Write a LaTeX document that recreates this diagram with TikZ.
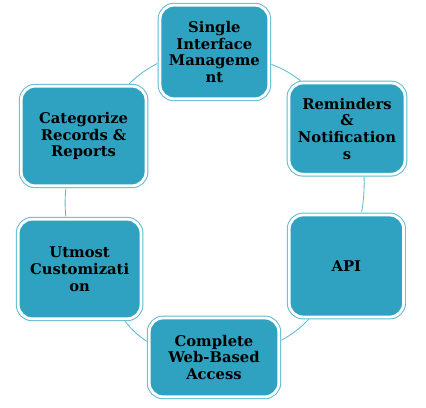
\documentclass[tikz,border=0pt]{standalone}
\usepackage{fontspec}
\setmainfont{DejaVu Serif}

\definecolor{boxfill}{RGB}{46,162,192}
\definecolor{linkc}{RGB}{92,186,210}

\tikzset{
  box/.style={rectangle, rounded corners=0.35cm, fill=boxfill, draw=white, line width=2pt,
    preaction={draw=linkc, line width=3.4pt},
    align=center, text=black, inner sep=2pt,
    font=\bfseries\fontsize{10.5}{11.9}\selectfont},
  link/.style={draw=linkc, line width=0.6pt, shorten >=1pt, shorten <=1pt}
}

\begin{document}
\begin{tikzpicture}
\useasboundingbox (0,0) rectangle (10.65,10.175);

\node[box, minimum width=2.72cm, minimum height=2.34cm] (single)  at (5.36,8.875) {Single\\Interface\\Manageme\\nt};
\node[box, minimum width=2.9cm, minimum height=2.28cm]  (remind)  at (8.675,6.96) {Reminders\\\&\\Notification\\s};
\node[box, minimum width=2.86cm, minimum height=2.55cm] (api)     at (8.66,3.525) {API};
\node[box, minimum width=3.24cm, minimum height=1.97cm] (webacc)  at (5.35,1.24)  {Complete\\Web-Based\\Access};
\node[box, minimum width=3.07cm, minimum height=2.49cm] (custom)  at (1.99,3.45)  {Utmost\\Customizati\\on};
\node[box, minimum width=3.12cm, minimum height=2.49cm] (records) at (2.09,6.775) {Categorize\\Records \&\\Reports};

\path
    (single.-12)   edge[link, bend left=8] (remind.134)
    (remind.-70)   edge[link, bend left=5] (api.74)
    (api.235)      edge[link, bend left=8] (webacc.14)
    (webacc.167)   edge[link, bend left=8] (custom.-49)
    (custom.105)   edge[link, bend left=5] (records.-109)
    (records.49)   edge[link, bend left=8] (single.191);
\end{tikzpicture}
\end{document}
